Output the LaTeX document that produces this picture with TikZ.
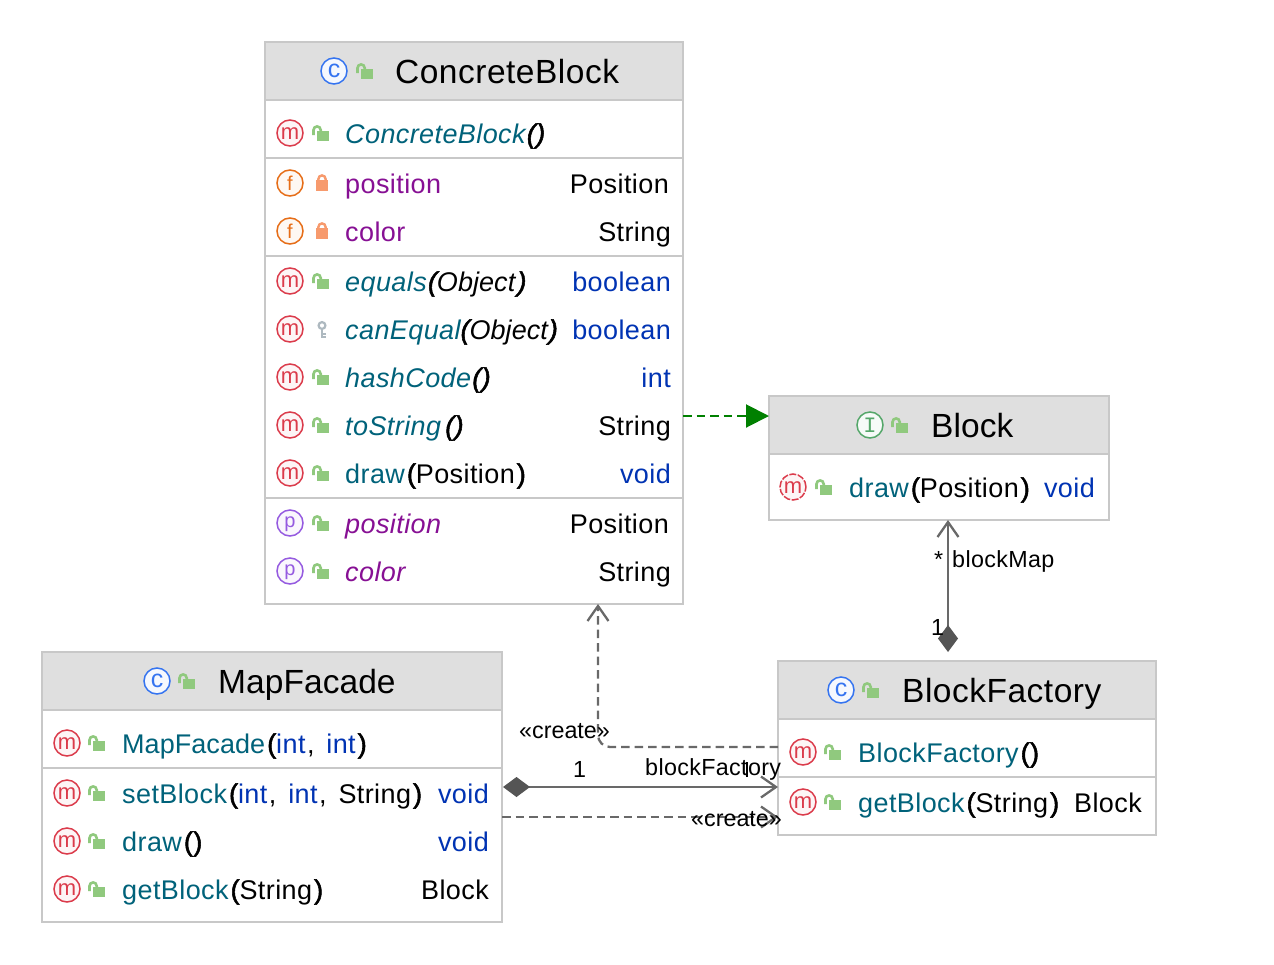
\documentclass[tikz,border=0pt]{standalone}
\usepackage{fontspec}
\setmainfont[LetterSpace=1.5]{Liberation Sans}
\newfontfamily\prnfont[LetterSpace=1.5,FakeBold=2]{Liberation Sans}
\newfontfamily\monoicon{Liberation Mono}
\usetikzlibrary{arrows.meta,calc}
\definecolor{umlborder}{RGB}{200,200,200}
\definecolor{umlhead}{RGB}{223,223,223}
\definecolor{umlline}{RGB}{105,105,105}
\definecolor{umldiamond}{RGB}{85,85,85}
\definecolor{umlgreen}{RGB}{0,128,0}
\definecolor{mthcol}{RGB}{0,98,122}
\definecolor{fldcol}{RGB}{135,16,148}
\definecolor{kwcol}{RGB}{0,51,179}
\definecolor{iconred}{RGB}{219,59,75}
\definecolor{iconorange}{RGB}{230,109,23}
\definecolor{iconpurple}{RGB}{149,90,224}
\definecolor{iconblue}{RGB}{53,116,240}
\definecolor{icongreen}{RGB}{85,167,106}
\definecolor{lockgreen}{RGB}{144,201,126}
\definecolor{lockorange}{RGB}{247,154,109}
\definecolor{keygray}{RGB}{174,185,192}
\newcommand{\mth}[1]{\textcolor{mthcol}{#1}}
\newcommand{\fld}[1]{\textcolor{fldcol}{#1}}
\newcommand{\kw}[1]{\textcolor{kwcol}{#1}}
\newcommand{\prn}[1]{{\prnfont\hspace{2pt}#1}}
\newcommand{\prnit}[1]{{\prnfont\itshape\hspace{1.2pt}#1}}
\newcommand{\cma}{\hspace{1.5pt},\hspace{4pt} }
\newcommand{\crt}{{\addfontfeature{LetterSpace=0}«create»}}
\newcommand{\tight}[1]{{\addfontfeature{LetterSpace=0.2}#1}}
\tikzset{
  classbox/.style={draw=umlborder, line width=1.4pt, fill=white, anchor=north west, inner sep=0pt, outer sep=0pt},
  headbox/.style={draw=umlborder, line width=1.4pt, fill=umlhead, anchor=north, inner sep=0pt, outer sep=0pt},
  sepline/.style={umlborder, line width=2pt},
  title/.style={anchor=base west, inner sep=0pt, font=\fontsize{33.5}{38}\selectfont},
  member/.style={anchor=base west, inner sep=0pt, font=\fontsize{27}{32}\selectfont},
  typelabel/.style={anchor=base east, inner sep=0pt, font=\fontsize{27}{32}\selectfont},
  edgelabel/.style={anchor=base west, inner sep=0pt, font=\fontsize{23.3}{28}\selectfont},
  icon/.style={circle, line width=1.5pt, minimum size=26pt, inner sep=0pt, font=\fontsize{22}{22}\selectfont},
  iconm/.style={icon, draw=iconred, fill=iconred!5, text=iconred, text height=13.4pt},
  iconabs/.style={iconm, dash pattern=on 7pt off 1.5pt},
  iconf/.style={icon, draw=iconorange, fill=iconorange!5, text=iconorange, font=\fontsize{20}{20}\selectfont, text height=15pt},
  iconp/.style={icon, draw=iconpurple, fill=iconpurple!5, text=iconpurple, font=\fontsize{20}{20}\selectfont, text height=12.5pt},
  iconc/.style={icon, draw=iconblue, fill=iconblue!5, text=iconblue, font=\fontsize{25}{25}\selectfont},
  iconi/.style={icon, draw=icongreen, fill=icongreen!5, text=icongreen},
  publock/.pic={
    \fill[lockgreen] (-4,-2) rectangle (8,8);
    \draw[lockgreen, line width=2.6pt] (-7.5,2) -- (-7.5,-3) arc[start angle=180, end angle=360, radius=3.6] -- (-0.3,-1);
  },
  privlock/.pic={
    \fill[lockorange] (-6,-3) rectangle (6,8);
    \draw[lockorange, line width=2.4pt] (-3.6,-2) -- (-3.6,-4) arc[start angle=180, end angle=360, radius=3.6] -- (3.6,-2);
  },
  protkey/.pic={
    \draw[keygray, line width=2.2pt] (0,-4.5) circle[radius=3.4];
    \draw[keygray, line width=2.6pt] (0,-1) -- (0,8);
    \draw[keygray, line width=2pt] (0,3.5) -- (3.5,3.5) (0,7) -- (3.5,7);
  },
  solidarr/.style={umlline, line width=2.3pt},
  dasharr/.style={umlline, line width=2.3pt, dash pattern=on 8.5pt off 5pt},
  openhead/.style={-{Straight Barb[length=15pt,width=21pt,line width=2.3pt]}}
}
\begin{document}
\begin{tikzpicture}[x=1pt,y=-1pt]
  \useasboundingbox (0,0) rectangle (1274,964);

  % ConcreteBlock
  \node[classbox, minimum width=418, minimum height=562] (concrete) at (265,42) {};
  \node[headbox, minimum width=418, minimum height=58] (concretehead) at (concrete.north) {};
  \draw[sepline] (concrete.west |- 0,158) -- (concrete.east |- 0,158);
  \draw[sepline] (concrete.west |- 0,256) -- (concrete.east |- 0,256);
  \draw[sepline] (concrete.west |- 0,498) -- (concrete.east |- 0,498);
  \node[iconc] (concreteicon) at (334,71) {c};
  \pic at (365,71) {publock};
  \node[title] (concretetitle) at (395,83) {ConcreteBlock};
  \node[iconm] (cctoricon) at (290,133) {m};
  \pic at (321,133) {publock};
  \node[member] (cctor) at (345,143) {\textit{\mth{ConcreteBlock}}\prnit{()}};
  \node[iconf] (cposicon) at (290,183) {f};
  \pic at (322,183) {privlock};
  \node[member] (cpos) at (345,193) {\fld{position}};
  \node[typelabel] (cpostype) at (669,193) {Position};
  \node[iconf] (ccolicon) at (290,231) {f};
  \pic at (322,231) {privlock};
  \node[member] (ccol) at (345,241) {\fld{color}};
  \node[typelabel] (ccoltype) at (671,241) {String};
  \node[iconm] (ceqicon) at (290,281) {m};
  \pic at (321,281) {publock};
  \node[member] (ceq) at (345,291) {\textit{\mth{equals}}\prnit{(}\textit{\tight{Object}}\prnit{)}};
  \node[typelabel] (ceqtype) at (671,291) {\kw{boolean}};
  \node[iconm] (ccanicon) at (290,329) {m};
  \pic at (322,330) {protkey};
  \node[member] (ccan) at (345,339) {\textit{\mth{canEqual}}{\prnfont\itshape(}\textit{\tight{Object}}{\prnfont\itshape)}};
  \node[typelabel] (ccantype) at (671,339) {\kw{boolean}};
  \node[iconm] (chashicon) at (290,377) {m};
  \pic at (321,377) {publock};
  \node[member] (chash) at (345,387) {\textit{\mth{hashCode}}\prnit{()}};
  \node[typelabel] (chashtype) at (671,387) {\kw{int}};
  \node[iconm] (cstricon) at (290,425) {m};
  \pic at (321,425) {publock};
  \node[member] (cstr) at (345,435) {\textit{\mth{toString}}\hspace{3pt}\prnit{()}};
  \node[typelabel] (cstrtype) at (671,435) {String};
  \node[iconm] (cdrawicon) at (290,473) {m};
  \pic at (321,473) {publock};
  \node[member] (cdraw) at (345,483) {\mth{draw}\prn{(}Position\prn{)}};
  \node[typelabel] (cdrawtype) at (671,483) {\kw{void}};
  \node[iconp] (cpropposicon) at (290,523) {p};
  \pic at (321,523) {publock};
  \node[member] (cproppos) at (345,533) {\textit{\fld{position}}};
  \node[typelabel] (cproppostype) at (669,533) {Position};
  \node[iconp] (cpropcolicon) at (290,571) {p};
  \pic at (321,571) {publock};
  \node[member] (cpropcol) at (345,581) {\textit{\fld{color}}};
  \node[typelabel] (cpropcoltype) at (671,581) {String};

  % Block
  \node[classbox, minimum width=340, minimum height=124] (block) at (769,396) {};
  \node[headbox, minimum width=340, minimum height=58] (blockhead) at (block.north) {};
  \node[iconi] (blockicon) at (870,425) {\monoicon I};
  \pic at (900,425) {publock};
  \node[title] (blocktitle) at (931,437) {\tight{Block}};
  \node[iconabs] (bdrawicon) at (793,487) {m};
  \pic at (824,487) {publock};
  \node[member] (bdraw) at (849,497) {\mth{draw}\prn{(}Position\prn{)}};
  \node[typelabel] (bdrawtype) at (1095,497) {\kw{void}};

  % BlockFactory
  \node[classbox, minimum width=378, minimum height=174] (factory) at (778,661) {};
  \node[headbox, minimum width=378, minimum height=58] (factoryhead) at (factory.north) {};
  \draw[sepline] (factory.west |- 0,777) -- (factory.east |- 0,777);
  \node[iconc] (factoryicon) at (841,690) {c};
  \pic at (871,690) {publock};
  \node[title] (factorytitle) at (902,702) {BlockFactory};
  \node[iconm] (fctoricon) at (803,752) {m};
  \pic at (833,752) {publock};
  \node[member] (fctor) at (858,762) {\mth{BlockFactory}\prn{()}};
  \node[iconm] (fgeticon) at (803,802) {m};
  \pic at (833,802) {publock};
  \node[member] (fget) at (858,812) {\mth{getBlock}\prn{(}String\prn{)}};
  \node[typelabel] (fgettype) at (1142,812) {Block};

  % MapFacade
  \node[classbox, minimum width=460, minimum height=270] (facade) at (42,652) {};
  \node[headbox, minimum width=460, minimum height=58] (facadehead) at (facade.north) {};
  \draw[sepline] (facade.west |- 0,768) -- (facade.east |- 0,768);
  \node[iconc] (facadeicon) at (157,681) {c};
  \pic at (187,681) {publock};
  \node[title] (facadetitle) at (218,693) {\tight{MapFacade}};
  \node[iconm] (mctoricon) at (67,743) {m};
  \pic at (97,743) {publock};
  \node[member] (mctor) at (122,753) {\mth{\tight{MapFacade}}\prn{(}\kw{int}\cma\kw{int}\prn{)}};
  \node[iconm] (mseticon) at (67,793) {m};
  \pic at (97,793) {publock};
  \node[member] (mset) at (122,803) {\mth{setBlock}\prn{(}\kw{int}\cma\kw{int}\cma String\prn{)}};
  \node[typelabel] (msettype) at (489,803) {\kw{void}};
  \node[iconm] (mdrawicon) at (67,841) {m};
  \pic at (97,841) {publock};
  \node[member] (mdraw) at (122,851) {\mth{draw}\prn{()}};
  \node[typelabel] (mdrawtype) at (489,851) {\kw{void}};
  \node[iconm] (mgeticon) at (67,889) {m};
  \pic at (97,889) {publock};
  \node[member] (mget) at (122,899) {\mth{getBlock}\prn{(}String\prn{)}};
  \node[typelabel] (mgettype) at (489,899) {Block};

  % connectors
  \coordinate (realend) at ([yshift=-20pt]block.north west);
  \draw[umlgreen, line width=2pt, dash pattern=on 8.5pt off 5pt, -{Triangle[length=23pt,width=23pt]}]
    (concrete.east |- realend) -- (realend);

  \coordinate (navend) at ([xshift=179pt]block.south west);
  \draw[solidarr, {Diamond[length=27pt,width=20pt,umldiamond]}-{Straight Barb[length=15pt,width=21pt,line width=2.3pt]}]
    (navend |- factory.north) ++(0,-9) -- (navend);
  \node[edgelabel] (navstar) at (934,567) {*};
  \node[edgelabel] (navrole) at (952,567) {blockMap};
  \node[edgelabel] (navone) at (931,635) {1};

  \coordinate (createstart) at ([yshift=88pt]factory.south west);
  \coordinate (createend) at ([xshift=333pt]concrete.south west);
  \draw[dasharr, openhead, rounded corners=12pt]
    (createstart) -- (createend |- createstart) -- (createend);
  \node[edgelabel] (createleft) at (519,738) {\crt};

  \coordinate (compend) at ([yshift=48pt]factory.south west);
  \draw[solidarr, {Diamond[length=27pt,width=20pt,umldiamond]}-{Straight Barb[length=15pt,width=21pt,line width=2.3pt]}]
    (facade.east |- compend) ++(1,0) -- (compend);
  \node[edgelabel] (compone) at (573,777) {1};
  \node[edgelabel] (comprole) at (645,775) {blockFactory};
  \draw[black, line width=1.2pt] (747,762) -- (747,777);

  \coordinate (facadecreate) at ([yshift=18pt]factory.south west);
  \draw[dasharr, openhead] (facade.east |- facadecreate) -- (facadecreate);
  \node[edgelabel] (createright) at (691,826) {\crt};
\end{tikzpicture}
\end{document}
